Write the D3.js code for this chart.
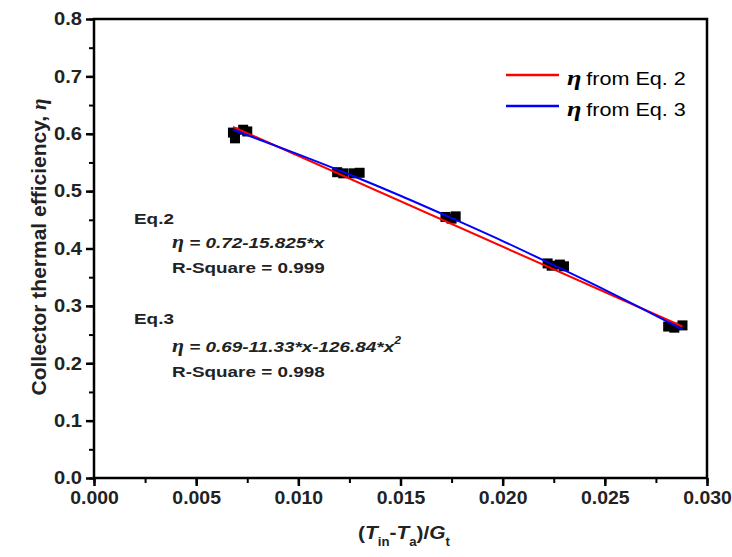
<!DOCTYPE html>
<html><head><meta charset="utf-8">
<script src="https://cdn.jsdelivr.net/npm/d3@7"></script>
<style>
html,body{margin:0;padding:0;background:#fff;}
svg{display:block;}
text{font-family:Arial,"Liberation Sans",sans-serif;}
</style></head>
<body><svg id="c" width="732" height="557"></svg>
<script>
// ---- data ----
const xTicks = [0, 0.005, 0.010, 0.015, 0.020, 0.025, 0.030];
const xTickLabels = ["0.000","0.005","0.010","0.015","0.020","0.025","0.030"];
const yTicks = [0,0.1,0.2,0.3,0.4,0.5,0.6,0.7,0.8];
const yTickLabels = ["0.0","0.1","0.2","0.3","0.4","0.5","0.6","0.7","0.8"];
const pointX = [0.0068,0.0069,0.0073,0.0075, 0.0119,0.0122,0.0127,0.0130, 0.0172,0.0175,0.0177, 0.0222,0.0224,0.0228,0.0230, 0.0281,0.0284,0.0288];
const pointY = [0.602,0.592,0.607,0.604, 0.533,0.531,0.531,0.532, 0.455,0.452,0.456, 0.374,0.370,0.372,0.369, 0.264,0.262,0.266];
const eq2X = [0.0068, 0.0288];
const eq2Y = [0.612, 0.264];
const eq3X = [0.0068,0.010,0.0125,0.015,0.0175,0.020,0.0225,0.025,0.0288];
const eq3Y = [0.607,0.564,0.529,0.492,0.453,0.413,0.371,0.328,0.259];
const legendLabels = ["from Eq. 2","from Eq. 3"];
const legendColors = ["#ff0000","#0000ff"];

// ---- layout ----
const svg = d3.select("#c");
const L=94, R=707, T=19, B=478;
const x = d3.scaleLinear().domain([0,0.03]).range([L,R]);
const y = d3.scaleLinear().domain([0,0.8]).range([B,T]);

function stretchAxisText(g,S){
  g.selectAll(".tick text").each(function(){
    const t=d3.select(this);
    const tx=+t.attr("x")||0, ty=+t.attr("y")||0;
    t.attr("x",0).attr("y",0).attr("transform",`translate(${tx},${ty}) scale(${S},1)`);
  });
}

// minor ticks
const xMinor = d3.range(0,0.0301,0.0025);
const yMinor = d3.range(0,0.801,0.05);
svg.append("g").attr("transform",`translate(0,${B})`)
  .call(d3.axisBottom(x).tickValues(xMinor).tickSize(5).tickFormat(""))
  .call(g=>{g.select(".domain").remove();g.selectAll("line").attr("stroke","#000").attr("stroke-width",2);});
svg.append("g").attr("transform",`translate(${L},0)`)
  .call(d3.axisLeft(y).tickValues(yMinor).tickSize(5).tickFormat(""))
  .call(g=>{g.select(".domain").remove();g.selectAll("line").attr("stroke","#000").attr("stroke-width",2);});

// major axes
const xa = svg.append("g").attr("transform",`translate(0,${B})`)
  .call(d3.axisBottom(x).tickValues(xTicks).tickSize(8).tickPadding(5).tickFormat((d,i)=>xTickLabels[i]));
xa.select(".domain").remove();
xa.selectAll("line").attr("stroke","#000").attr("stroke-width",2.5);
xa.selectAll("text").attr("font-size",18).attr("font-weight","bold").attr("fill","#222").attr("font-family","Arial,'Liberation Sans',sans-serif");
stretchAxisText(xa,1.08);

const ya = svg.append("g").attr("transform",`translate(${L},0)`)
  .call(d3.axisLeft(y).tickValues(yTicks).tickSize(8).tickPadding(4).tickFormat((d,i)=>yTickLabels[i]));
ya.select(".domain").remove();
ya.selectAll("line").attr("stroke","#000").attr("stroke-width",2.5);
ya.selectAll("text").attr("font-size",18).attr("font-weight","bold").attr("fill","#222").attr("font-family","Arial,'Liberation Sans',sans-serif");
stretchAxisText(ya,1.12);

// frame
svg.append("rect").attr("x",L).attr("y",T).attr("width",R-L).attr("height",B-T)
  .attr("fill","none").attr("stroke","#000").attr("stroke-width",2.5);

// points
const pts = pointX.map((v,i)=>({x:v,y:pointY[i]}));
const ms = 10;
svg.append("g").selectAll("rect").data(pts).join("rect")
  .attr("x",d=>x(d.x)-ms/2).attr("y",d=>y(d.y)-ms/2).attr("width",ms).attr("height",ms)
  .attr("fill","#000");

// fit lines
const line = d3.line().x(d=>x(d[0])).y(d=>y(d[1])).curve(d3.curveMonotoneX);
svg.append("path").datum(eq2X.map((v,i)=>[v,eq2Y[i]])).attr("d",line)
  .attr("fill","none").attr("stroke",legendColors[0]).attr("stroke-width",2);
svg.append("path").datum(eq3X.map((v,i)=>[v,eq3Y[i]])).attr("d",line)
  .attr("fill","none").attr("stroke",legendColors[1]).attr("stroke-width",2);

// helper for stretched text
function stxt(px,py,S,anchor){
  return svg.append("text").attr("transform",`translate(${px},${py}) scale(${S},1)`).attr("text-anchor",anchor||"start");
}

// legend
legendLabels.forEach((lab,i)=>{
  const ly = 75 + i*31;
  svg.append("line").attr("x1",506).attr("x2",559).attr("y1",ly).attr("y2",ly)
    .attr("stroke",legendColors[i]).attr("stroke-width",2.5);
  const t = stxt(567, ly+10, 1.2).attr("font-size",18).attr("fill","#000");
  t.append("tspan").attr("font-family","'Liberation Serif','DejaVu Serif',serif").attr("font-style","italic").attr("font-weight","bold").attr("font-size",22).text("η");
  t.append("tspan").attr("dx",4).text(lab);
});

// annotations
const ann = "#222";
const aS = 1.22, aF = 15.5;
stxt(134,224,aS).attr("font-size",aF).attr("font-weight","bold").attr("fill",ann).text("Eq.2");
{
  const t=stxt(172,248,aS).attr("font-size",aF).attr("font-weight","bold").attr("font-style","italic").attr("fill",ann);
  t.append("tspan").attr("font-family","'Liberation Serif',serif").attr("font-size",18).text("η");
  t.append("tspan").text(" = 0.72-15.825*x");
}
stxt(172,273,aS).attr("font-size",aF).attr("font-weight","bold").attr("fill",ann).text("R-Square = 0.999");
stxt(134,324,aS).attr("font-size",aF).attr("font-weight","bold").attr("fill",ann).text("Eq.3");
{
  const t=stxt(172,352,aS).attr("font-size",aF).attr("font-weight","bold").attr("font-style","italic").attr("fill",ann);
  t.append("tspan").attr("font-family","'Liberation Serif',serif").attr("font-size",18).text("η");
  t.append("tspan").text(" = 0.69-11.33*x-126.84*x");
  t.append("tspan").attr("font-size",10).attr("dy",-8).text("2");
}
stxt(172,377,aS).attr("font-size",aF).attr("font-weight","bold").attr("fill",ann).text("R-Square = 0.998");

// y-axis title
{
  const t = svg.append("text").attr("transform",`translate(46,247) rotate(-90)`)
    .attr("text-anchor","middle").attr("font-size",21).attr("font-weight","bold").attr("fill","#222");
  t.append("tspan").text("Collector thermal efficiency, ");
  t.append("tspan").attr("font-family","'Liberation Serif',serif").attr("font-style","italic").text("η");
}
// x-axis title
{
  const t = stxt(404,539,1.1,"middle").attr("font-size",19).attr("font-weight","bold").attr("fill","#222");
  t.append("tspan").text("(");
  t.append("tspan").attr("font-style","italic").text("T");
  t.append("tspan").attr("font-size",12).attr("dy",7).text("in");
  t.append("tspan").attr("dy",-7).text("-");
  t.append("tspan").attr("font-style","italic").text("T");
  t.append("tspan").attr("font-size",12).attr("dy",7).text("a");
  t.append("tspan").attr("dy",-7).text(")/");
  t.append("tspan").attr("font-style","italic").text("G");
  t.append("tspan").attr("font-size",12).attr("dy",7).text("t");
}
</script></body></html>
